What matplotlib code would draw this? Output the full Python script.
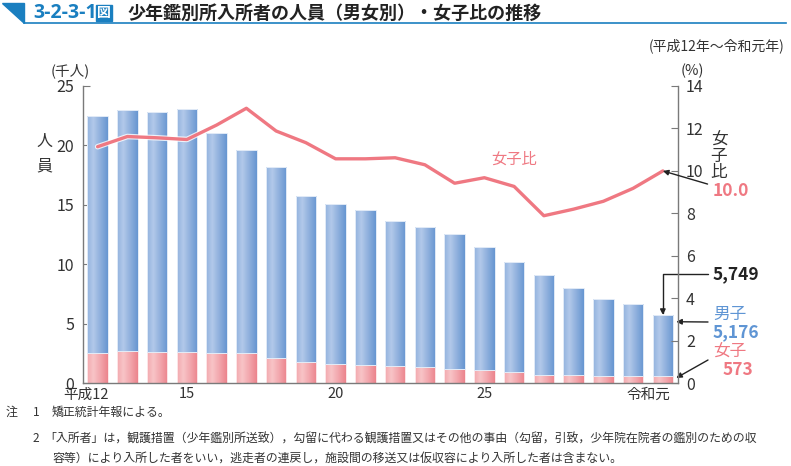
import matplotlib
matplotlib.use("Agg")
import matplotlib.pyplot as plt
import matplotlib.patheffects as pe
import matplotlib.transforms as mtrans
import numpy as np
from matplotlib.patches import Polygon
from matplotlib.colors import LinearSegmentedColormap

plt.rcParams['font.family'] = ['Noto Sans CJK JP', 'DejaVu Sans']

# データ（千人，%）
years = ['平成12', '13', '14', '15', '16', '17', '18', '19', '20', '21',
         '22', '23', '24', '25', '26', '27', '28', '29', '30', '令和元']
female = [2.52, 2.69, 2.63, 2.66, 2.55, 2.52, 2.16, 1.79, 1.60, 1.55,
          1.46, 1.37, 1.20, 1.09, 0.95, 0.73, 0.67, 0.62, 0.62, 0.573]
total = [22.5, 23.0, 22.78, 23.06, 21.04, 19.64, 18.18, 15.79, 15.09, 14.56,
         13.64, 13.18, 12.54, 11.47, 10.18, 9.12, 8.05, 7.10, 6.67, 5.749]
ratio = [11.14, 11.62, 11.56, 11.48, 12.16, 12.95, 11.88, 11.33, 10.57, 10.57,
         10.62, 10.29, 9.42, 9.68, 9.27, 7.89, 8.20, 8.57, 9.18, 10.0]
male = [t - f for t, f in zip(total, female)]
shown_ticks = {0: '平成12', 3: '15', 8: '20', 13: '25', 19: '令和元'}

BLUE_G = ['#93b3de', '#b2c9ea', '#92b2de', '#6796d1']
PINK_G = ['#f2a9ae', '#f8c4c7', '#f3aab0', '#ec848d']
LINE = '#ef7882'
GRAY = '#7a7a7a'
TXT = '#333333'

fig = plt.figure(figsize=(7.91, 4.66), dpi=100)
ax = fig.add_axes([0.1046, 0.1775, 0.7522, 0.638])
x = np.arange(len(years))
w = 0.69


def grad_bars(bars, colors):
    cmap = LinearSegmentedColormap.from_list('g', list(zip([0, 0.3, 0.6, 1], colors)))
    g = np.linspace(0, 1, 64).reshape(1, -1)
    for b in bars:
        bx, by = b.get_x(), b.get_y()
        im = ax.imshow(g, cmap=cmap, aspect='auto', zorder=2, interpolation='bilinear',
                       extent=[bx, bx + b.get_width(), by, by + b.get_height()])
        im.set_clip_path(b)


bf = ax.bar(x, female, w, color=PINK_G[-1], edgecolor='#fde6e8', linewidth=0.7, zorder=2)
bm = ax.bar(x, male, w, bottom=female, color=BLUE_G[-1], edgecolor='#e2ebf7', linewidth=0.7, zorder=2)
grad_bars(bf, PINK_G)
grad_bars(bm, BLUE_G)
for b in list(bf) + list(bm):
    b.set_zorder(2.5)
    b.set_facecolor('none')

ax.set_xlim(-0.5, 19.5)
ax.set_ylim(0, 25)
ax.set_yticks([0, 5, 10, 15, 20, 25])
ax.set_xticks(list(shown_ticks.keys()))
ax.set_xticklabels(list(shown_ticks.values()))
ax.tick_params(axis='x', length=0, pad=3, labelsize=10.5, labelcolor=TXT)
ax.tick_params(axis='y', direction='in', length=5, color=GRAY, pad=6, labelsize=11.5, labelcolor=TXT)
for s in ['top', 'right']:
    ax.spines[s].set_visible(False)
for s in ['left', 'bottom']:
    ax.spines[s].set_color(GRAY)
    ax.spines[s].set_linewidth(1.0)
# 端の年のラベルは少し左寄せ
labs = ax.get_xticklabels()
for lab, dx in [(labs[0], -12), (labs[-1], -14)]:
    lab.set_transform(lab.get_transform() + mtrans.ScaledTranslation(dx / 100, 0, fig.dpi_scale_trans))

ax2 = ax.twinx()
ax2.plot(x, ratio, color=LINE, linewidth=2.4, zorder=3, solid_capstyle='round',
         path_effects=[pe.Stroke(linewidth=4.0, foreground='white', alpha=0.8), pe.Normal()])
ax2.set_ylim(0, 14)
ax2.set_xlim(-0.5, 19.5)
ax2.set_yticks(range(0, 15, 2))
ax2.tick_params(axis='y', direction='in', length=5, color=GRAY, pad=6, labelsize=11.5, labelcolor=TXT)
for s in ['top', 'left', 'bottom']:
    ax2.spines[s].set_visible(False)
ax2.spines['right'].set_color(GRAY)
ax2.spines['right'].set_linewidth(1.0)

# 軸の単位など
fig.text(70 / 791, 1 - 71 / 466, '(千人)', ha='center', va='center', fontsize=10.5, color=TXT)
fig.text(692 / 791, 1 - 71 / 466, '(%)', ha='center', va='center', fontsize=10.5, color=TXT)
fig.text(44 / 791, 1 - 141 / 466, '人', ha='center', va='center', fontsize=11.5, color=TXT)
fig.text(44 / 791, 1 - 166 / 466, '員', ha='center', va='center', fontsize=11.5, color=TXT)
for i, ch in enumerate('女子比'):
    fig.text(719 / 791, 1 - (140 + i * 16) / 466, ch, ha='center', va='center', fontsize=12, color=TXT)
fig.text(785 / 791, 1 - 46 / 466, '(平成12年～令和元年)', ha='right', va='center', fontsize=10, color=TXT)

ax2.text(14.0, ratio[14] + 1.3, '女子比', color=LINE, fontsize=11, ha='center', va='center')

# 注記（令和元年）
last = len(x) - 1
ARW = dict(arrowstyle='-|>', color='#222222', lw=1.0, mutation_scale=8, shrinkA=0, shrinkB=0)
ax2.annotate('10.0', xy=(last, ratio[last]), xycoords='data',
             xytext=(713 / 791, 1 - 191 / 466), textcoords='figure fraction',
             color=LINE, fontsize=12.5, fontweight='bold', ha='left', va='center',
             arrowprops=dict(ARW, shrinkA=2))
ax.annotate('', xy=(last, total[last]), xycoords='data',
            xytext=(708 / 791, 1 - 274 / 466), textcoords='figure fraction',
            arrowprops=dict(ARW, connectionstyle='angle,angleA=180,angleB=90,rad=0'))
fig.text(713 / 791, 1 - 274 / 466, '5,749', color='#222222', fontsize=12.5, fontweight='bold',
         ha='left', va='center')
ax.annotate('', xy=(19.45, male[last]), xycoords='data',
            xytext=(708 / 791, 1 - 322 / 466), textcoords='figure fraction', arrowprops=ARW)
fig.text(713 / 791, 1 - 314 / 466, '男子', color='#5f95d4', fontsize=12, ha='left', va='center')
fig.text(713 / 791, 1 - 332 / 466, '5,176', color='#5f95d4', fontsize=12.5, fontweight='bold',
         ha='left', va='center')
ax.annotate('', xy=(19.45, 0.45), xycoords='data',
            xytext=(708 / 791, 1 - 360 / 466), textcoords='figure fraction', arrowprops=ARW)
fig.text(713 / 791, 1 - 352 / 466, '女子', color=LINE, fontsize=12, ha='left', va='center')
fig.text(753 / 791, 1 - 370 / 466, '573', color=LINE, fontsize=12.5, fontweight='bold',
         ha='right', va='center')

# タイトル
TBLUE = '#1a7fc0'
fig.patches.append(Polygon([[2 / 791, 1 - 3 / 466], [24 / 791, 1 - 3 / 466], [24 / 791, 1 - 23 / 466]],
                           closed=True, transform=fig.transFigure, color=TBLUE))
fig.add_artist(plt.Line2D([24 / 791, 786 / 791], [1 - 23 / 466, 1 - 23 / 466],
                          transform=fig.transFigure, color=TBLUE, lw=1.2))
fig.text(33 / 791, 1 - 13 / 466, '3-2-3-1', color=TBLUE, fontsize=14, fontweight='bold',
         ha='left', va='center', family='Open Sans')
fig.text(104 / 791, 1 - 13 / 466, '図', color='white', fontsize=10, fontweight='bold',
         ha='center', va='center',
         bbox=dict(boxstyle='square,pad=0.1', fc=TBLUE, ec=TBLUE))
fig.text(128 / 791, 1 - 13 / 466, '少年鑑別所入所者の人員（男女別）・女子比の推移', color='#222222',
         fontsize=13, fontweight='bold', ha='left', va='center')

# 注
fs = 8.6
fig.text(6 / 791, 1 - 412 / 466, '注', fontsize=fs, color=TXT, va='center')
fig.text(33 / 791, 1 - 412 / 466, '1', fontsize=fs, color=TXT, va='center')
fig.text(52 / 791, 1 - 412 / 466, '矯正統計年報による。', fontsize=fs, color=TXT, va='center')
fig.text(33 / 791, 1 - 439 / 466, '2', fontsize=fs, color=TXT, va='center')
fig.text(44 / 791, 1 - 439 / 466,
         '「入所者」は，観護措置（少年鑑別所送致），勾留に代わる観護措置又はその他の事由（勾留，引致，少年院在院者の鑑別のための収',
         fontsize=fs, color=TXT, va='center')
fig.text(52 / 791, 1 - 458 / 466,
         '容等）により入所した者をいい，逃走者の連戻し，施設間の移送又は仮収容により入所した者は含まない。',
         fontsize=fs, color=TXT, va='center')

fig.savefig('out.png', dpi=100)
